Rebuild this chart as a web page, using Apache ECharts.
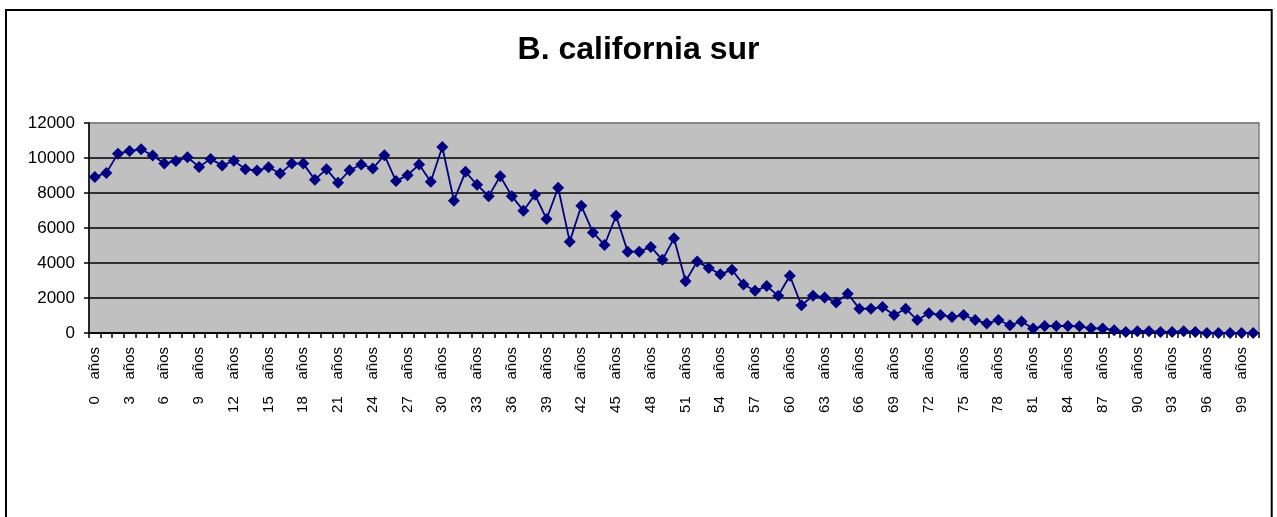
<!DOCTYPE html>
<html>
<head>
<meta charset="utf-8">
<script src="https://cdn.jsdelivr.net/npm/echarts@6/dist/echarts.min.js"></script>
<style>
html,body{margin:0;padding:0;background:#fff;}
#c{width:1277px;height:517px;}
</style>
</head>
<body>
<div id="c"></div>
<script>
const titleText = 'B. california sur';
const categories = [
'0    años','1    años','2    años','3    años','4    años','5    años','6    años','7    años','8    años','9    años',
'10    años','11    años','12    años','13    años','14    años','15    años','16    años','17    años','18    años','19    años',
'20    años','21    años','22    años','23    años','24    años','25    años','26    años','27    años','28    años','29    años',
'30    años','31    años','32    años','33    años','34    años','35    años','36    años','37    años','38    años','39    años',
'40    años','41    años','42    años','43    años','44    años','45    años','46    años','47    años','48    años','49    años',
'50    años','51    años','52    años','53    años','54    años','55    años','56    años','57    años','58    años','59    años',
'60    años','61    años','62    años','63    años','64    años','65    años','66    años','67    años','68    años','69    años',
'70    años','71    años','72    años','73    años','74    años','75    años','76    años','77    años','78    años','79    años',
'80    años','81    años','82    años','83    años','84    años','85    años','86    años','87    años','88    años','89    años',
'90    años','91    años','92    años','93    años','94    años','95    años','96    años','97    años','98    años','99    años',
'100    años'
];
const values = [
8920, 9150, 10250, 10400, 10500, 10140, 9680, 9830, 10040, 9490,
9950, 9570, 9850, 9360, 9280, 9470, 9110, 9680, 9680, 8760,
9360, 8580, 9300, 9630, 9400, 10160, 8680, 9020, 9630, 8640,
10630, 7560, 9210, 8470, 7820, 8960, 7820, 6990, 7900, 6510,
8300, 5220, 7270, 5750, 5030, 6700, 4650, 4650, 4920, 4180,
5410, 2960, 4080, 3720, 3360, 3610, 2770, 2410, 2680, 2130,
3270, 1580, 2130, 2030, 1750, 2240, 1390, 1390, 1480, 1030,
1390, 740, 1130, 1030, 910, 1030, 740, 550, 740, 440,
660, 260, 400, 400, 400, 380, 270, 260, 160, 60,
100, 100, 60, 60, 100, 60, 0, 0, 0, 0,
0
];
const yTicks = [0, 2000, 4000, 6000, 8000, 10000, 12000];

const font = '"Liberation Sans", Arial, sans-serif';
const chart = echarts.init(document.getElementById('c'), null, {renderer: 'canvas'});
chart.setOption({
  animation: false,
  backgroundColor: '#ffffff',
  title: {
    text: titleText,
    left: 'center',
    top: 29,
    textStyle: {fontFamily: font, fontSize: 32, fontWeight: 'bold', color: '#000'}
  },
  graphic: [{
    type: 'rect',
    shape: {x: 6, y: 10, width: 1265.7, height: 540},
    style: {fill: 'none', stroke: '#000', lineWidth: 2},
    silent: true, z: 100
  }],
  grid: {
    left: 89, top: 123, right: 18, bottom: 184,
    show: true, backgroundColor: '#c0c0c0', borderColor: '#808080', borderWidth: 1.5
  },
  xAxis: {
    type: 'category',
    data: categories,
    boundaryGap: true,
    axisLine: {show: true, onZero: false, lineStyle: {color: '#000', width: 1.5}},
    axisTick: {show: true, interval: 0, length: 5, lineStyle: {color: '#000', width: 1.5}},
    axisLabel: {interval: 2, rotate: 90, margin: 14, fontFamily: font, fontSize: 15, color: '#000'},
    splitLine: {show: false}
  },
  yAxis: {
    type: 'value',
    min: yTicks[0], max: yTicks[yTicks.length - 1], interval: 2000,
    axisLine: {show: true, lineStyle: {color: '#000', width: 1.5}},
    axisTick: {show: true, length: 5, lineStyle: {color: '#000', width: 1.5}},
    axisLabel: {margin: 14, fontFamily: font, fontSize: 17, color: '#000', formatter: function (v) { return String(v); }},
    splitLine: {show: true, lineStyle: {color: ['#000','#000','#000','#000','#000','#000','#808080'], width: 1.5}}
  },
  series: [{
    type: 'line',
    data: values,
    symbol: 'diamond',
    symbolSize: 12,
    showAllSymbol: true,
    lineStyle: {color: '#000080', width: 1.8},
    itemStyle: {color: '#000080'},
    z: 3
  }]
});
</script>
</body>
</html>
